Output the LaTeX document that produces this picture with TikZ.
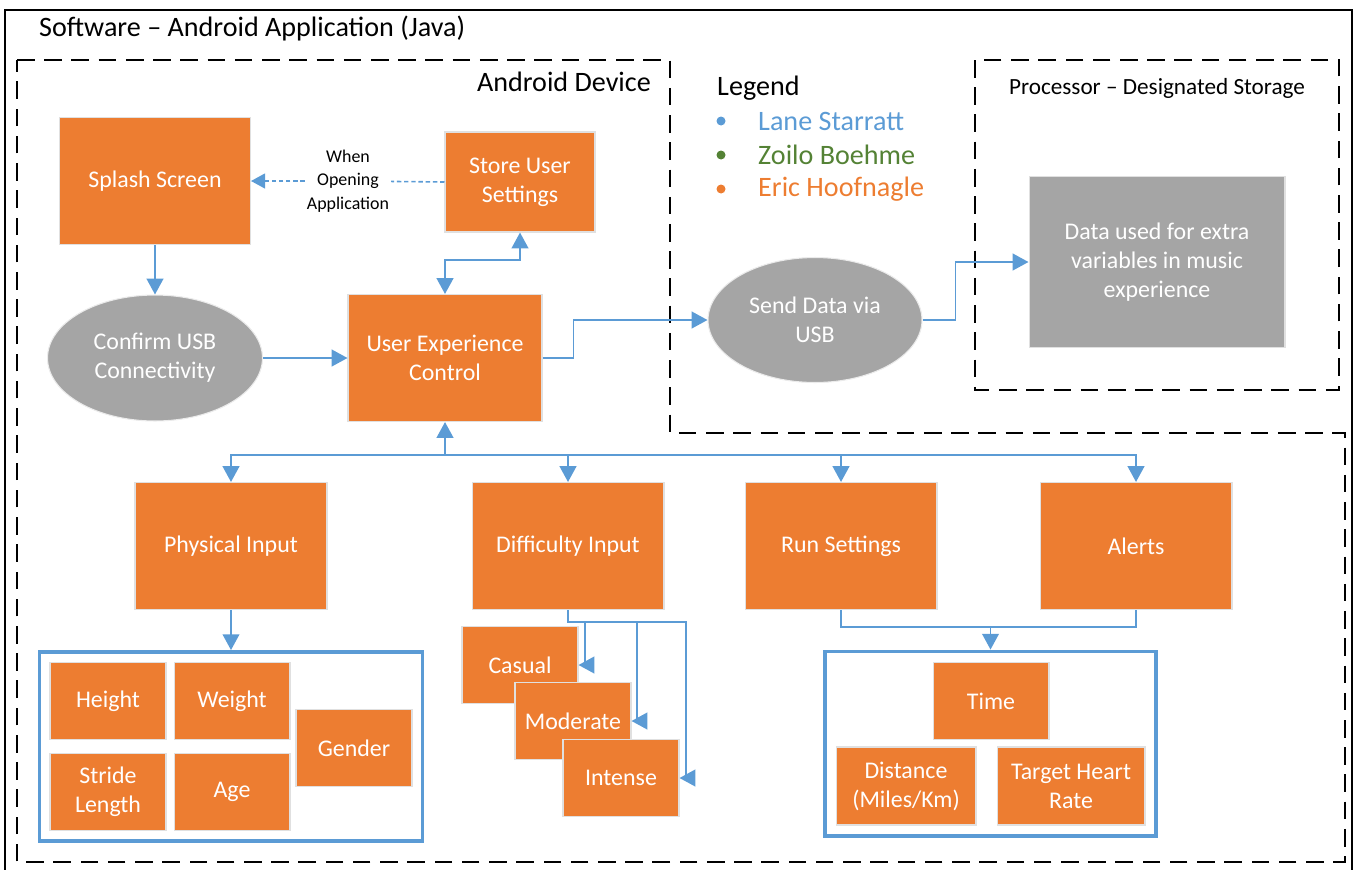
\documentclass[tikz,border=0pt]{standalone}
\usepackage{fontspec}
\setmainfont{Carlito}
\usepackage{tikz}
\usetikzlibrary{arrows.meta,positioning,fit,shapes.geometric}

\definecolor{offorange}{HTML}{ED7D31}
\definecolor{offgray}{HTML}{A5A5A5}
\definecolor{offblue}{HTML}{5B9BD5}
\definecolor{offgreen}{HTML}{548235}

\begin{document}
\begin{tikzpicture}[
  x=0.02cm, y=-0.02cm,
  box/.style={draw=black!12, line width=0.6pt, fill=offorange, text=white,
              align=center, font=\fontsize{13.6}{16.5}\selectfont, inner sep=2pt},
  bigbox/.style={box, minimum width=3.84cm, minimum height=2.54cm},
  smallbox/.style={box, minimum width=2.32cm, minimum height=1.54cm},
  oval/.style={ellipse, draw=black!8, line width=0.6pt, fill=offgray, text=white,
               align=center, font=\fontsize{13.6}{16.5}\selectfont, inner sep=0pt},
  grp/.style={draw=offblue, line width=2.2pt, inner sep=0.2cm},
  zone/.style={draw, line width=0.9pt, dash pattern=on 10pt off 5.5pt},
  arr/.style={-{Triangle[length=9pt,width=9.5pt]}, offblue, line width=1.1pt},
  bus/.style={offblue, line width=1.1pt},
  hint/.style={offblue, line width=0.9pt, dash pattern=on 2.5pt off 1.6pt},
  label/.style={font=\fontsize{16}{18}\selectfont},
  dot/.style={circle, inner sep=0pt, minimum size=0.18cm},
]
\useasboundingbox (0,0) rectangle (1354,869);

% frames
\draw[line width=0.8pt] (5,10) rectangle (1352,880);
\draw[zone] (17,60) -- (670,60) -- (670,433) -- (1345,433) -- (1345,862)
  -- (17,862) -- cycle;
\draw[zone] (975,60) rectangle (1339,390);

\node[label, anchor=west] (title) at (33,28) {Software – Android Application (Java)};
\node[label, anchor=east] (device) at (657,82) {Android Device};
\node[font=\fontsize{13.2}{15}\selectfont] (storage) at (1157,88)
  {Processor – Designated Storage};

% legend
\node[label, anchor=west] (legend) at (711,88) {Legend};
\node[dot, fill=offblue] (dot1) at (721,121) {};
\node[dot, fill=offgreen] (dot2) at (721,155) {};
\node[dot, fill=offorange] (dot3) at (721,189) {};
\node[label, anchor=west, text=offblue] (lane) at (752,121) {Lane Starratt};
\node[label, anchor=west, text=offgreen] (zoilo) at (752,155) {Zoilo Boehme};
\node[label, anchor=west, text=offorange] (eric) at (752,189) {Eric Hoofnagle};

% top row
\node[bigbox, minimum width=3.82cm] (splash) at (155,181) {Splash Screen};
\node[box, minimum width=3.0cm, minimum height=2.0cm] (store) at (520,182)
  {Store User\\Settings};
\node[font=\fontsize{10.2}{13.3}\selectfont, align=center, inner sep=1pt] (when)
  at (348,181) {When\\Opening\\Application};
\node[oval, minimum width=4.3cm, minimum height=2.52cm] (confirm) at (155,358)
  {Confirm USB\\Connectivity};
\node[bigbox, minimum width=3.88cm] (uxc) at (445,358) {User Experience\\Control};
\node[oval, minimum width=4.28cm, minimum height=2.5cm] (send) at (815,320)
  {Send Data via\\USB};
\node[box, fill=offgray, minimum width=5.12cm, minimum height=3.42cm] (data)
  at (1157,262) {Data used for extra\\variables in music\\experience};

% inputs
\node[bigbox] (phys) at (231,546) {Physical Input};
\node[bigbox] (diff) at (568,546) {Difficulty Input};
\node[bigbox] (run) at (841,546) {Run Settings};
\node[bigbox] (alerts) at (1136,546) {Alerts};

% physical details
\node[smallbox] (height) at (108,701) {Height};
\node[smallbox, right=0.14cm of height] (weight) {Weight};
\node[smallbox, below=0.26cm of height] (stride) {Stride\\Length};
\node[smallbox, right=0.14cm of stride] (age) {Age};
\node[smallbox] (gender) at (354,748) {Gender};
\node[grp, fit=(height)(stride)(gender)] (physgrp) {};

% difficulty levels
\node[smallbox] (casual) at (520,665) {Casual};
\node[smallbox] (moderate) at (573,721) {Moderate};
\node[smallbox] (intense) at (621,778) {Intense};

% run details
\node[smallbox] (time) at (991,701) {Time};
\node[box, minimum width=2.8cm, minimum height=1.56cm] (dist) at (906,786)
  {Distance\\(Miles/Km)};
\node[box, minimum width=2.96cm, minimum height=1.56cm] (heart) at (1071,786)
  {Target Heart\\Rate};
\node[grp, inner sep=0.21cm, fit=(time)(dist)(heart)] (rungrp) {};

% connectors
\draw[hint] (store.west) -- (when);
\draw[hint, -{Triangle[length=8pt,width=8.5pt]}] (when) -- (splash.east);
\draw[arr] (splash) -- (confirm);
\draw[arr] (confirm) -- (uxc);
\draw[arr, {Triangle[length=9pt,width=9.5pt]}-{Triangle[length=9pt,width=9.5pt]}]
  (uxc.north) -- ++(0,-34) -| (store.south);
\draw[arr] (uxc.east) -- ++(31,0) |- (send.west);
\draw[arr] (send.east) -- ++(33,0) |- (data.west);

\coordinate (hub) at (445,455);
\draw[arr] (hub) -- (uxc.south);
\foreach \n in {phys,diff,run,alerts}
  \draw[arr] (hub) -| (\n.north);

\draw[arr] (phys.south) -- (phys.south |- physgrp.north);
\foreach \t/\c in {casual/585,moderate/637,intense/686}
  \draw[arr] (diff.south) |- (\c,622) |- (\t.east);

\coordinate (runjoin) at (rungrp.north |- 0,627);
\draw[bus] (run.south) |- (runjoin) -| (alerts.south);
\draw[arr] (runjoin) -- (rungrp.north);
\end{tikzpicture}
\end{document}
